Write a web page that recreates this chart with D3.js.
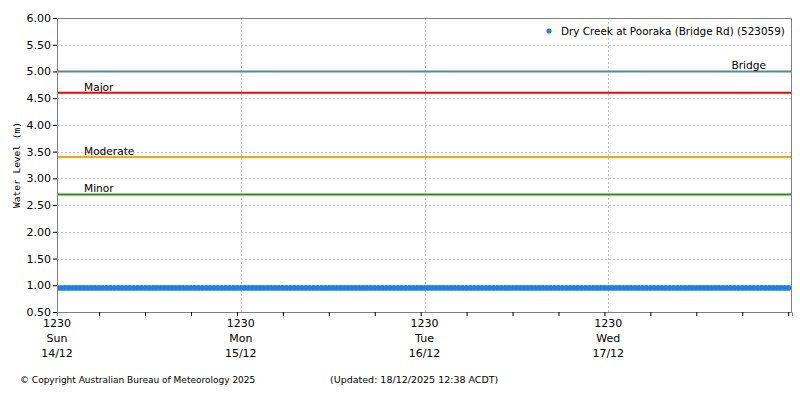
<!DOCTYPE html>
<html>
<head>
<meta charset="utf-8">
<script src="https://cdn.jsdelivr.net/npm/d3@7"></script>
<style>
  body { margin: 0; background: #fff; }
  text { font-family: "DejaVu Sans", Verdana, sans-serif; font-size: 10px; fill: #000; }
</style>
</head>
<body>
<svg id="chart" width="800" height="400"></svg>
<script>
// station
const seriesName = "Dry Creek at Pooraka (Bridge Rd) (523059)";
const firstReading = "2025-12-14T12:30";
const readingStepMinutes = 30;
// water level readings (m), every 30 min from 14/12 12:30
const levels = [
  0.95, 0.95, 0.95, 0.95, 0.95, 0.95, 0.95, 0.95, 0.95, 0.95, 0.95, 0.95, 0.95, 0.95, 0.95, 0.95, 0.95, 0.95, 0.95, 0.95, 0.95, 0.95, 0.95, 0.95,
  0.95, 0.95, 0.95, 0.95, 0.95, 0.95, 0.95, 0.95, 0.95, 0.95, 0.95, 0.95, 0.95, 0.95, 0.95, 0.95, 0.95, 0.95, 0.95, 0.95, 0.95, 0.95, 0.95, 0.95,
  0.95, 0.95, 0.95, 0.95, 0.95, 0.95, 0.95, 0.95, 0.95, 0.95, 0.95, 0.95, 0.95, 0.95, 0.95, 0.95, 0.95, 0.95, 0.95, 0.95, 0.95, 0.95, 0.95, 0.95,
  0.95, 0.95, 0.95, 0.95, 0.95, 0.95, 0.95, 0.95, 0.95, 0.95, 0.95, 0.95, 0.95, 0.95, 0.95, 0.95, 0.95, 0.95, 0.95, 0.95, 0.95, 0.95, 0.95, 0.95,
  0.95, 0.95, 0.95, 0.95, 0.95, 0.95, 0.95, 0.95, 0.95, 0.95, 0.95, 0.95, 0.95, 0.95, 0.95, 0.95, 0.95, 0.95, 0.95, 0.95, 0.95, 0.95, 0.95, 0.95,
  0.95, 0.95, 0.95, 0.95, 0.95, 0.95, 0.95, 0.95, 0.95, 0.95, 0.95, 0.95, 0.95, 0.95, 0.95, 0.95, 0.95, 0.95, 0.95, 0.95, 0.95, 0.95, 0.95, 0.95,
  0.95, 0.95, 0.95, 0.95, 0.95, 0.95, 0.95, 0.95, 0.95, 0.95, 0.95, 0.95, 0.95, 0.95, 0.95, 0.95, 0.95, 0.95, 0.95, 0.95, 0.95, 0.95, 0.95, 0.95,
  0.95, 0.95, 0.95, 0.95, 0.95, 0.95, 0.95, 0.95, 0.95, 0.95, 0.95, 0.95, 0.95, 0.95, 0.95, 0.95, 0.95, 0.95, 0.95, 0.95, 0.95, 0.95, 0.95, 0.95
];

// flood classification levels
const thresholdNames = ["Minor", "Moderate", "Major", "Bridge"];
const thresholdValues = [2.7, 3.4, 4.6, 5.0];
const thresholdColors = ["#2b8c14", "#ffa500", "#ff0000", "#55899a"];

// x axis
const xStart = "2025-12-14T12:30";
const xEnd = "2025-12-18T12:30";
const majorTicks = ["2025-12-14T12:30", "2025-12-15T12:30", "2025-12-16T12:30", "2025-12-17T12:30"];
const tickTimes = ["1230", "1230", "1230", "1230"];
const tickDays = ["Sun", "Mon", "Tue", "Wed"];
const tickDates = ["14/12", "15/12", "16/12", "17/12"];

// y axis
const yMin = 0.5, yMax = 6.0;
const yTicks = [0.5, 1.0, 1.5, 2.0, 2.5, 3.0, 3.5, 4.0, 4.5, 5.0, 5.5, 6.0];

const copyright = "© Copyright Australian Bureau of Meteorology 2025";
const updated = "(Updated: 18/12/2025 12:38 ACDT)";

const parse = d3.utcParse("%Y-%m-%dT%H:%M");
const t0 = parse(firstReading);
const data = levels.map((v, i) => ({ time: d3.utcMinute.offset(t0, i * readingStepMinutes), level: v }));

const margin = { top: 18, right: 8, bottom: 88, left: 57 };
const width = 800 - margin.left - margin.right;
const height = 400 - margin.top - margin.bottom;

const x = d3.scaleUtc().domain([parse(xStart), parse(xEnd)]).range([0, width]);
const y = d3.scaleLinear().domain([yMin, yMax]).range([height, 0]);

const svg = d3.select("#chart");
const g = svg.append("g").attr("transform", `translate(${margin.left},${margin.top})`);

g.append("clipPath").attr("id", "plot")
  .append("rect").attr("width", width).attr("height", height);

// gridlines
g.append("g").selectAll("line").data(yTicks.slice(1)).join("line")
  .attr("x1", 0).attr("x2", width)
  .attr("y1", d => Math.round(y(d)) + 0.5).attr("y2", d => Math.round(y(d)) + 0.5)
  .attr("stroke", "#c4c4c4").attr("stroke-dasharray", "2,2");

g.append("g").selectAll("line").data(majorTicks.slice(1).map(parse)).join("line")
  .attr("x1", d => Math.round(x(d)) + 0.5).attr("x2", d => Math.round(x(d)) + 0.5)
  .attr("y1", 0).attr("y2", height)
  .attr("stroke", "#c4c4c4").attr("stroke-dasharray", "2,2");

// threshold lines
const thr = g.append("g");
thresholdValues.forEach((v, i) => {
  thr.append("line")
    .attr("x1", 0).attr("x2", width)
    .attr("y1", y(v)).attr("y2", y(v))
    .attr("stroke", thresholdColors[i]).attr("stroke-width", 2);
  const isBridge = thresholdNames[i] === "Bridge";
  thr.append("text")
    .attr("x", isBridge ? 709 : 27)
    .attr("y", y(v) - 2)
    .attr("text-anchor", isBridge ? "end" : "start")
    .style("font-size", "10.6px")
    .text(thresholdNames[i]);
});

// readings
g.append("g").attr("clip-path", "url(#plot)")
  .selectAll("circle").data(data).join("circle")
  .attr("cx", d => x(d.time))
  .attr("cy", d => y(d.level))
  .attr("r", 2.9)
  .attr("fill", "#1e80e8");

// axes
const yAxis = d3.axisLeft(y).tickValues(yTicks).tickFormat(d3.format(".2f")).tickSize(4).tickPadding(2);
const yG = g.append("g").call(yAxis);
yG.selectAll("text").style("font-size", "11px");

const xAxis = d3.axisBottom(x).ticks(d3.utcHour.every(6)).tickSize(4).tickFormat("");
const xG = g.append("g").attr("transform", `translate(0,${height})`).call(xAxis);

[yG, xG].forEach(a => {
  a.select(".domain").attr("stroke", "#808080");
  a.selectAll(".tick line").attr("stroke", "#000");
});

// multi-line x labels
const xl = g.append("g").attr("transform", `translate(0,${height})`)
  .selectAll("text").data(majorTicks).join("text")
  .attr("text-anchor", "middle")
  .style("font-size", "11px")
  .attr("transform", d => `translate(${x(parse(d))},0)`);
xl.append("tspan").attr("x", 0).attr("y", 15).text((d, i) => tickTimes[i]);
xl.append("tspan").attr("x", 0).attr("y", 30).text((d, i) => tickDays[i]);
xl.append("tspan").attr("x", 0).attr("y", 45).text((d, i) => tickDates[i]);

// frame top/right
g.append("line").attr("x1", 0).attr("x2", width).attr("y1", 0.5).attr("y2", 0.5).attr("stroke", "#808080");
g.append("line").attr("x1", width - 0.5).attr("x2", width - 0.5).attr("y1", 0).attr("y2", height).attr("stroke", "#808080");

// y title
svg.append("text")
  .attr("transform", `translate(20,${margin.top + height / 2}) rotate(-90)`)
  .attr("text-anchor", "middle")
  .style("font-family", "'DejaVu Sans Mono', monospace")
  .style("font-size", "9.5px")
  .text("Water Level (m)");

// legend
svg.append("circle").attr("cx", 549).attr("cy", 31).attr("r", 2.6).attr("fill", "#1e80e8");
svg.append("text").attr("x", 561).attr("y", 35).style("font-size", "10.4px").text(seriesName);

// footer
svg.append("text").attr("x", 20).attr("y", 383).style("font-size", "9px").text(copyright);
svg.append("text").attr("x", 330).attr("y", 383).style("font-size", "9.5px").text(updated);
</script>
</body>
</html>
